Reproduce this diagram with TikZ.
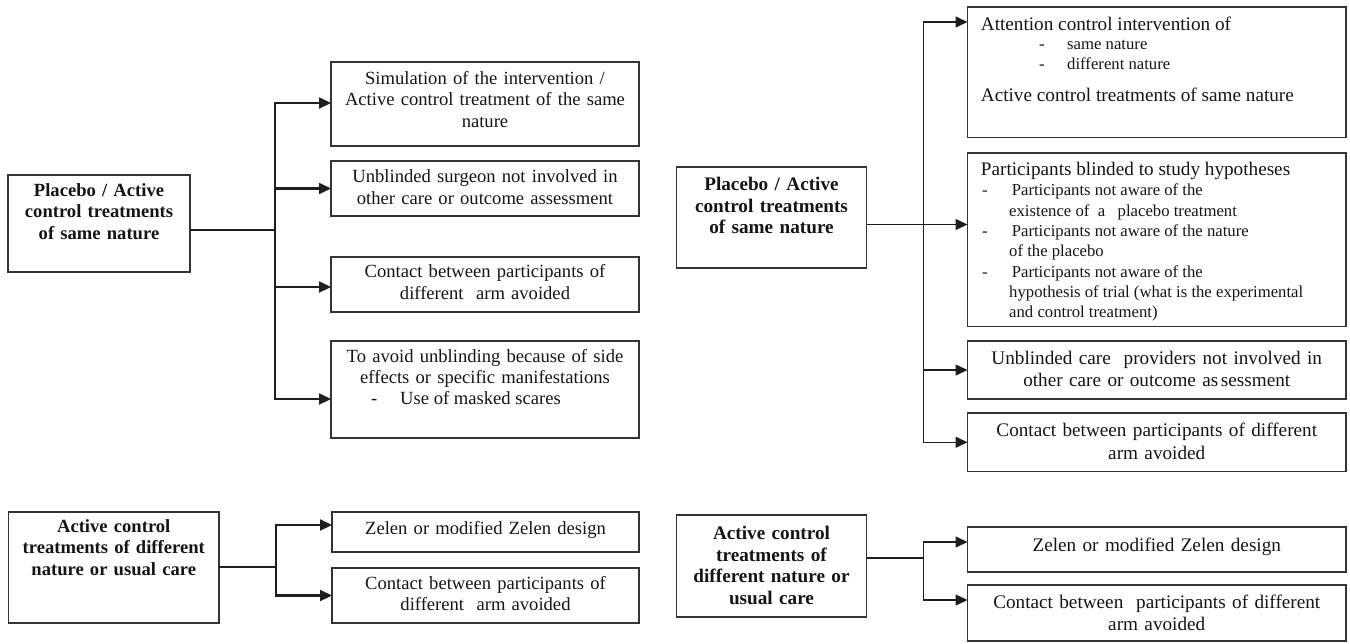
\documentclass[tikz,border=0pt]{standalone}
\usepackage{fontspec}
\setmainfont{Liberation Serif}
\usetikzlibrary{arrows.meta,calc}
\definecolor{boxc}{HTML}{333333}
\definecolor{linec}{HTML}{1E1E1E}
\definecolor{txtc}{HTML}{151515}
\begin{document}
\begin{tikzpicture}[x=1pt,y=-1pt,
  box/.style={draw=boxc, line width=1.3pt, inner sep=0pt, outer sep=0pt, rectangle},
  tl/.style={inner sep=0pt, anchor=base, align=center, text width=300pt, text=txtc, font=\fontsize{18.6}{21.5}\selectfont},
  tlb/.style={tl, font=\bfseries\fontsize{18.6}{21.5}\selectfont},
  tr/.style={inner sep=0pt, anchor=base, align=center, text width=370pt, text=txtc, font=\fontsize{19.2}{22.3}\selectfont},
  trb/.style={tr, font=\bfseries\fontsize{19.2}{21.8}\selectfont},
  hdr/.style={inner sep=0pt, anchor=base west, text=txtc, font=\fontsize{19.2}{22}\selectfont},
  hdl/.style={inner sep=0pt, anchor=base west, text=txtc, font=\fontsize{18.6}{21.5}\selectfont},
  sub/.style={inner sep=0pt, anchor=base west, text=txtc, font=\fontsize{16.7}{20}\selectfont},
  lnL/.style={draw=linec, line width=2.2pt},
  lnR/.style={draw=linec, line width=1.5pt},
  tipL/.tip={Triangle[length=12pt,width=11pt]},
  tipR/.tip={Triangle[length=12pt,width=11pt]},
  arL/.style={lnL, -tipL},
  arR/.style={lnR, -tipR},
  arLL/.style={lnL, tipL-tipL, line join=miter},
  arRR/.style={lnR, tipR-tipR, line join=miter}
]
\fill[white] (0,0) rectangle (1350,643);
\useasboundingbox (0,0) rectangle (1350,643);

% ---------- top-left group ----------
\node[box, minimum width=182pt, minimum height=97pt] (LA) at (99,223.5) {};
\node[box, minimum width=308pt, minimum height=84pt] (B1) at (485,104) {};
\node[box, minimum width=308pt, minimum height=55pt] (B2) at (485,188.5) {};
\node[box, minimum width=308pt, minimum height=55pt] (B3) at (485,284.5) {};
\node[box, minimum width=308pt, minimum height=97pt] (B4) at (485,389.5) {};

\node[tlb, text width=180pt] (LAt) at (99,196.2) {Placebo / Active\\control treatments\\of same nature};
\node[tl] (B1t) at (485,84.2) {Simulation of the intervention /\\Active control treatment of the same\\nature};
\node[tl, font=\fontsize{18.6}{22}\selectfont] (B2t) at (485,182.2) {Unblinded surgeon not involved in\\other care or outcome assessment};
\node[tl, font=\fontsize{18.6}{22.5}\selectfont] (B3t) at (485,277.2) {Contact between participants of\\different\ \ arm avoided};
\node[tl, font=\fontsize{18.6}{20.5}\selectfont] (B4t) at (485,362.5) {To avoid unblinding because of side\\effects or specific manifestations};
\node[hdl] (B4d) at (371,404.2) {-};
\node[hdl] (B4s) at (400,404.2) {Use of masked scares};

\coordinate (J1) at (275,230);
\coordinate (a3) at ($(B3.west)+(0,2.5)$);
\coordinate (a4) at ($(B4.west)+(0,9.5)$);
\coordinate (a1) at ($(B1.west)+(0,-1)$);
\draw[lnL] (LA.east |- J1) -- (J1);
\draw[arLL] (a1) -- (J1 |- a1) -- (J1 |- a4) -- (a4);
\draw[arL] (J1 |- B2.west) -- (B2.west);
\draw[arL] (J1 |- a3) -- (a3);

% ---------- bottom-left group ----------
\node[box, minimum width=210.5pt, minimum height=111pt] (LB) at (113.75,567.5) {};
\node[box, minimum width=307pt, minimum height=40pt] (BA) at (485.5,532) {};
\node[box, minimum width=307pt, minimum height=55pt] (BB) at (485.5,595.5) {};

\node[tlb, text width=205pt] (LBt) at (113.75,532.2) {Active control\\treatments of different\\nature or usual care};
\node[tl] (BAt) at (485.5,534) {Zelen or modified Zelen design};
\node[tl, font=\fontsize{18.6}{21}\selectfont] (BBt) at (485.5,589) {Contact between participants of\\different\ \ arm avoided};

\coordinate (J2) at (276,567);
\coordinate (bA) at ($(BA.west)+(0,-7)$);
\draw[lnL] (LB.east |- J2) -- (J2);
\draw[arLL] (bA) -- (J2 |- bA) -- (J2 |- BB.west) -- (BB.west);

% ---------- top-right group ----------
\node[box, minimum width=190pt, minimum height=101pt] (RA) at (771.5,217.5) {};
\node[box, minimum width=378.5pt, minimum height=130.5pt] (R1) at (1156.75,72.25) {};
\node[box, minimum width=378.5pt, minimum height=173.5pt] (R2) at (1156.75,239.75) {};
\node[box, minimum width=378.5pt, minimum height=58pt] (R3) at (1156.75,370) {};
\node[box, minimum width=378.5pt, minimum height=58.5pt] (R4) at (1156.75,442.25) {};

\node[trb, text width=186pt] (RAt) at (771.5,190.3) {Placebo / Active\\control treatments\\of same nature};

\node[hdr] (R1a) at (980.7,30.5) {Attention control intervention of};
\node[sub] (R1d1) at (1039,49.8) {-};
\node[sub] (R1b) at (1067,49.8) {same nature};
\node[sub] (R1d2) at (1039,69.8) {-};
\node[sub] (R1c) at (1067,69.8) {different nature};
\node[hdr] (R1e) at (980.7,101.3) {Active control treatments of same nature};

\node[hdr] (R2a) at (980.7,175.3) {Participants blinded to study hypotheses};
\node[sub] (R2d1) at (982,195.5) {-};
\node[sub] (R2l1) at (1011.6,195.5) {Participants not aware of the};
\node[sub] (R2l2) at (1009,216) {existence of\ \ a\ \ \ placebo treatment};
\node[sub] (R2d2) at (982,236) {-};
\node[sub] (R2l3) at (1011.6,236) {Participants not aware of the nature};
\node[sub] (R2l4) at (1009,256.2) {of the placebo};
\node[sub] (R2d3) at (982,277) {-};
\node[sub] (R2l5) at (1011.6,277) {Participants not aware of the};
\node[sub] (R2l6) at (1009,297.2) {hypothesis of trial (what is the experimental};
\node[sub] (R2l7) at (1009,317.2) {and control treatment)};

\node[tr] (R3t) at (1156.75,364.3) {Unblinded care\ \ providers not involved in\\other care or outcome as\hspace{2.5pt}sessment};
\node[tr, font=\fontsize{19.2}{22.8}\selectfont] (R4t) at (1156.75,436.3) {Contact between participants of different\\arm avoided};

\coordinate (J3) at (923.5,224.5);
\coordinate (r1) at ($(R1.west)+(0,-50.25)$);
\coordinate (r2) at ($(R2.west)+(0,-15.25)$);
\draw[arR] (RA.east |- r2) -- (r2);
\draw[arRR] (r1) -- (J3 |- r1) -- (J3 |- R4.west) -- (R4.west);
\draw[arR] (J3 |- R3.west) -- (R3.west);

% ---------- bottom-right group ----------
\node[box, minimum width=190pt, minimum height=102pt] (RB) at (771.5,566) {};
\node[box, minimum width=378.5pt, minimum height=45pt] (RBA) at (1156.75,549.5) {};
\node[box, minimum width=378.5pt, minimum height=56pt] (RBB) at (1156.75,613) {};

\node[trb, text width=186pt] (RBt) at (771.5,539.3) {Active control\\treatments of\\different nature or\\usual care};
\node[tr] (RBAt) at (1156.75,551.3) {Zelen or modified Zelen design};
\node[tr] (RBBt) at (1156.75,608.3) {Contact between\ \ participants of different\\arm avoided};

\coordinate (J4) at (923.5,558);
\coordinate (s1) at ($(RBA.west)+(0,-7.5)$);
\coordinate (s2) at ($(RBB.west)+(0,-13)$);
\draw[lnR] (RB.east |- J4) -- (J4);
\draw[arRR] (s1) -- (J4 |- s1) -- (J4 |- s2) -- (s2);
\end{tikzpicture}
\end{document}
